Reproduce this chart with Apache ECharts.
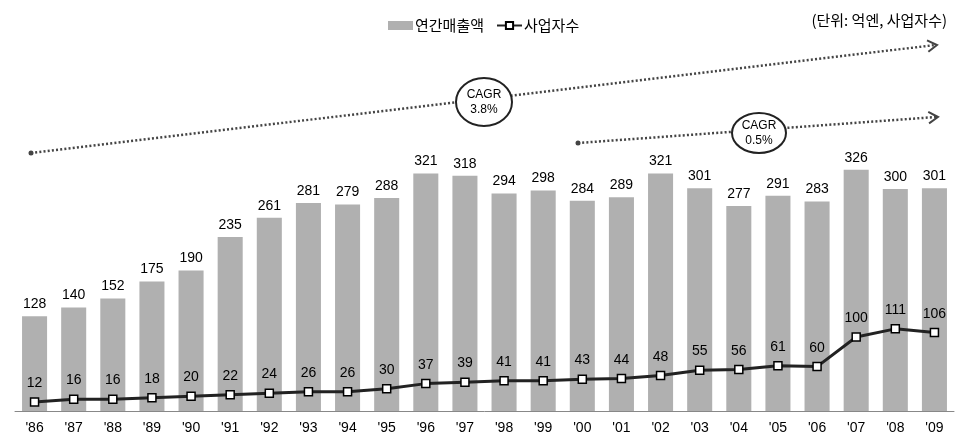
<!DOCTYPE html>
<html>
<head>
<meta charset="utf-8">
<script src="https://cdn.jsdelivr.net/npm/echarts@6/dist/echarts.min.js"></script>
<style>html,body{margin:0;padding:0;background:#fff}#c{width:970px;height:442px}</style>
</head>
<body>
<div id="c"></div>
<script>
var categories = ["'86","'87","'88","'89","'90","'91","'92","'93","'94","'95","'96","'97","'98","'99","'00","'01","'02","'03","'04","'05","'06","'07","'08","'09"];
var salesValues = [128,140,152,175,190,235,261,281,279,288,321,318,294,298,284,289,321,301,277,291,283,326,300,301];
var operatorValues = [12,16,16,18,20,22,24,26,26,30,37,39,41,41,43,44,48,55,56,61,60,100,111,106];
var seriesNames = ['연간매출액','사업자수'];
var unitText = '(단위: 억엔, 사업자수)';
var cagrTexts = ['CAGR\n3.8%','CAGR\n0.5%'];

var numFont = "'Liberation Sans', Arial, sans-serif";
var krFont = "'Noto Sans CJK KR', sans-serif";
var arrowColor = '#444';

function dottedArrow(x1,y1,x2,y2){
  var ang = Math.atan2(y2-y1,x2-x1);
  var L = 11, a = 0.55;
  var p1 = [x2 - L*Math.cos(ang-a), y2 - L*Math.sin(ang-a)];
  var p2 = [x2 - L*Math.cos(ang+a), y2 - L*Math.sin(ang+a)];
  return [
    {type:'line', shape:{x1:x1,y1:y1,x2:x2-2,y2:y2}, style:{stroke:arrowColor,lineWidth:2.5,lineDash:[2,2.2]}, z:5},
    {type:'circle', shape:{cx:x1,cy:y1,r:2.5}, style:{fill:arrowColor}, z:5},
    {type:'polyline', shape:{points:[p1,[x2,y2],p2]}, style:{stroke:arrowColor,lineWidth:2,fill:null}, z:5}
  ];
}
function cagrBubble(cx,cy,rx,ry,txt){
  return [
    {type:'ellipse', shape:{cx:cx,cy:cy,rx:rx,ry:ry}, style:{fill:'#fff',stroke:'#222',lineWidth:2}, z:6},
    {type:'text', x:cx, y:cy, style:{text:txt, fill:'#000', font:'12px '+numFont, align:'center', verticalAlign:'middle', lineHeight:15}, z:7}
  ];
}

var graphics = [].concat(
  dottedArrow(31,153,937,45),
  dottedArrow(578,143,938,117),
  cagrBubble(484,102,28,24,cagrTexts[0]),
  cagrBubble(759,133,27,20,cagrTexts[1]),
  [{type:'text', right:23, top:13, style:{text:unitText, fill:'#000', font:'15px '+krFont}}]
);

var chart = echarts.init(document.getElementById('c'));
chart.setOption({
  animation:false,
  legend:{
    left:383, top:13, itemWidth:25, itemHeight:9, itemGap:12,
    textStyle:{color:'#000', fontSize:15, fontFamily:krFont, padding:[0,0,0,-3]},
    data:[{name:seriesNames[0], icon:'rect'},{name:seriesNames[1]}]
  },
  grid:{left:15, right:16, top:115, bottom:31},
  xAxis:{
    type:'category', data:categories,
    axisLine:{lineStyle:{color:'#888',width:1}},
    axisTick:{length:6,lineStyle:{color:'#888'}},
    axisLabel:{color:'#000', fontSize:14, fontFamily:numFont, margin:10}
  },
  yAxis:{type:'value', min:0, max:400, show:false, splitLine:{show:false}},
  graphic:graphics,
  series:[
    {
      name:seriesNames[0], type:'bar', data:salesValues, barWidth:'64%',
      itemStyle:{color:'#b0b0b0'},
      label:{show:true, position:'top', distance:5, color:'#000', fontSize:14, fontFamily:numFont}
    },
    {
      name:seriesNames[1], type:'line', data:operatorValues, z:4,
      symbol:'rect', symbolSize:8,
      lineStyle:{color:'#222', width:3},
      itemStyle:{color:'#fff', borderColor:'#000', borderWidth:1.5},
      label:{show:true, position:'top', distance:7, color:'#000', fontSize:14, fontFamily:numFont}
    }
  ]
});
</script>
</body>
</html>
